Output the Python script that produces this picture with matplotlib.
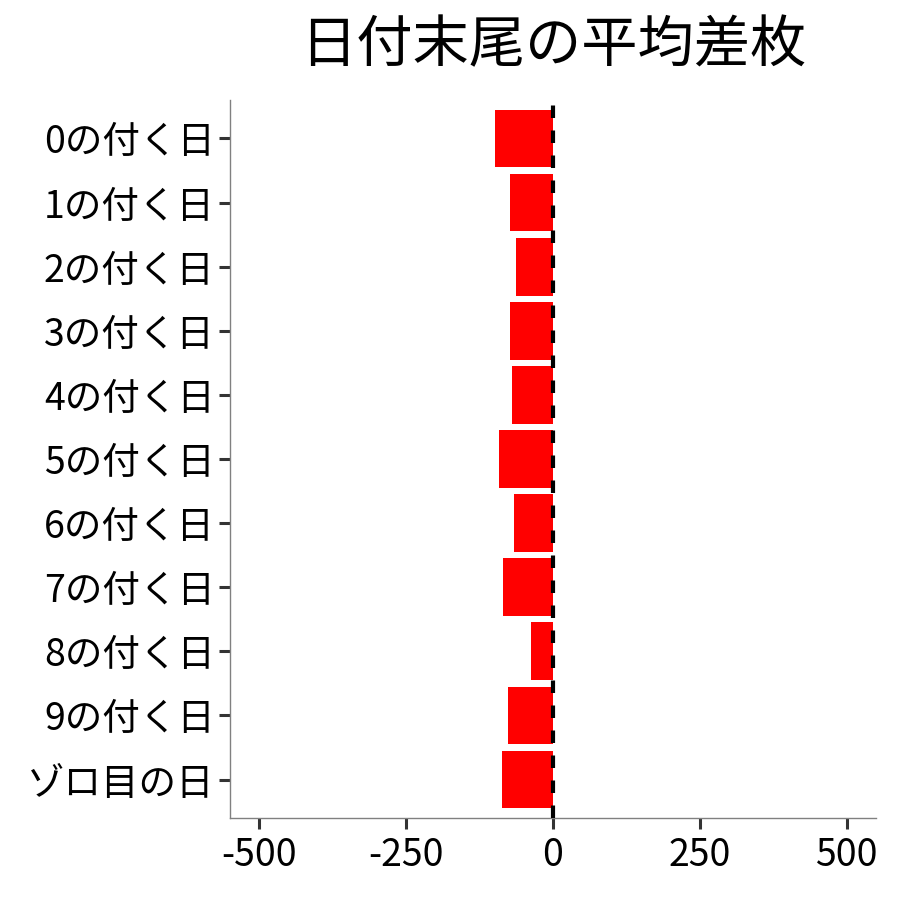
import matplotlib
matplotlib.use('Agg')
import matplotlib.pyplot as plt

plt.rcParams['font.family'] = ['Noto Sans CJK JP', 'DejaVu Sans']

categories = ['0の付く日', '1の付く日', '2の付く日', '3の付く日', '4の付く日',
              '5の付く日', '6の付く日', '7の付く日', '8の付く日', '9の付く日',
              'ゾロ目の日']
values = [-99, -73, -63, -73, -70, -92, -67, -86, -37, -77, -87]
xticks = [-500, -250, 0, 250, 500]

fig = plt.figure(figsize=(9, 9), dpi=100)
ax = fig.add_axes([0.2556, 0.0911, 0.7178, 0.7978])

pos = list(range(len(categories)))[::-1]
ax.barh(pos, values, height=0.9, color='#ff0000', zorder=2)
ax.axvline(0, color='black', linewidth=3, linestyle=(0, (3, 3)), zorder=3)

ax.set_xlim(-550, 550)
ax.set_ylim(-0.6, len(categories) - 0.4)
ax.set_yticks(pos)
ax.set_yticklabels(categories)
ax.set_xticks(xticks)
ax.set_xticklabels([str(t) for t in xticks])

for s in ['top', 'right']:
    ax.spines[s].set_visible(False)
for s in ['left', 'bottom']:
    ax.spines[s].set_color('#808080')
    ax.spines[s].set_linewidth(1.0)
ax.tick_params(axis='both', colors='#333333', width=2.2, length=8, labelsize=27,
               labelcolor='black', pad=3)
ax.tick_params(axis='x', pad=5)

ax.set_title('日付末尾の平均差枚', fontsize=40.5, pad=27)

fig.savefig('out.png', dpi=100)
